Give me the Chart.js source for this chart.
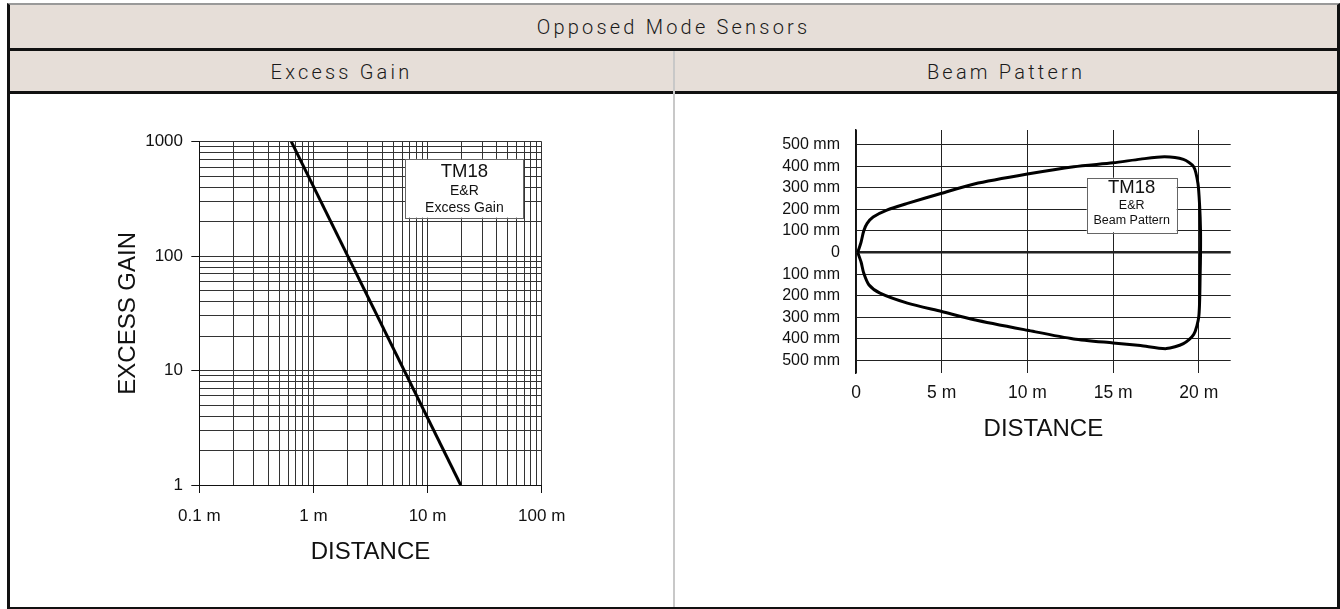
<!DOCTYPE html>
<html>
<head>
<meta charset="utf-8">
<title>Opposed Mode Sensors</title>
<script src="https://cdn.jsdelivr.net/npm/chart.js@4.4.0/dist/chart.umd.min.js"></script>
<style>
  body { margin: 0; width: 1340px; height: 609px; overflow: hidden; background: #fff; position: relative; }
  .frame { position: absolute; left: 7px; top: 3px; width: 1333px; height: 606px; box-sizing: border-box;
           border-left: 3px solid #111; border-right: 3px solid #111; border-bottom: 2px solid #111; border-top: 2px solid #999; }
  .head { position: absolute; background: #e6ded8; color: #1a1a1a; font-family: Roboto, sans-serif; font-weight: 300;
          font-size: 20px; letter-spacing: 3.2px; text-align: center; box-sizing: border-box; }
  #h1 { left: 10px; top: 5px; width: 1327px; height: 46px; line-height: 45px; border-bottom: 3px solid #111; }
  #h2a { left: 10px; top: 51px; width: 663px; height: 43px; line-height: 42px; border-bottom: 3px solid #111; }
  #h2b { left: 675px; top: 51px; width: 662px; height: 43px; line-height: 42px; border-bottom: 3px solid #111; }
  .divider { position: absolute; left: 673px; top: 51px; width: 2px; height: 556px; background: #c8c8c8; }
  .box { position: absolute; top: 94px; height: 513px; }
  #gainBox { left: 10px; width: 663px; }
  #beamBox { left: 675px; width: 662px; }
</style>
</head>
<body>
<div class="frame"></div>
<div class="head" id="h1">Opposed Mode Sensors</div>
<div class="head" id="h2a">Excess Gain</div>
<div class="head" id="h2b">Beam Pattern</div>
<div class="divider"></div>
<div class="box" id="gainBox"><canvas id="gain"></canvas></div>
<div class="box" id="beamBox"><canvas id="beam"></canvas></div>
<script>
// excess gain curve (distance in m, gain)
var gainDist = [0.64, 19.5];
var gainVal = [1000, 1];
// log axis decades
var distDecades = [0.1, 1, 10, 100];
var gainDecades = [1, 10, 100, 1000];

// beam pattern outline (distance in m, width in mm), tip -> top edge -> far end -> bottom edge -> tip
var beamX = [0.1, 0.3, 0.45, 0.65, 1.0, 1.8, 3.0, 5.0, 6.9, 10.0, 12.7, 15.0, 16.6, 18.0, 19.1, 19.7, 19.95, 20.05, 20.1, 20.1,
             20.08, 20.0, 19.7, 19.1, 18.1, 16.6, 15.0, 12.7, 10.0, 6.9, 5.0, 3.0, 1.4, 0.75, 0.45, 0.3, 0.1];
var beamY = [0, 50, 100, 135, 165, 197, 228, 275, 318, 364, 398, 416, 433, 444, 432, 398, 320, 213, 100, 0,
             -95, -296, -380, -422, -445, -431, -419, -400, -360, -311, -273, -234, -188, -149, -95, -45, 0];
var beamXTicks = [0, 5, 10, 15, 20];
var beamYTicks = [-500, -400, -300, -200, -100, 0, 100, 200, 300, 400, 500];

Chart.defaults.font.family = "'Liberation Sans', Arial, sans-serif";
Chart.defaults.color = '#111';

// builds 1..9 per decade ticks for a log axis
function logTicks(decades) {
	var t = [];
	for (var i = 0; i < decades.length - 1; i++) {
		for (var m = 1; m < 10; m++) {
			t.push({ value: decades[i] * m, major: m === 1 });
		}
	}
	t.push({ value: decades[decades.length - 1], major: true });
	return t;
}

// white label box drawn in data coordinates
var noteBox = {
	id: 'noteBox',
	beforeDatasetsDraw: function(chart, args, o) {
		var c = chart.ctx, x = chart.scales.x, y = chart.scales.y;
		var l = x.getPixelForValue(o.x0), r = x.getPixelForValue(o.x1);
		var t = y.getPixelForValue(o.y0), b = y.getPixelForValue(o.y1);
		c.save();
		c.fillStyle = '#fff';
		c.fillRect(l, t, r - l, b - t);
		c.strokeStyle = '#666';
		c.lineWidth = 1;
		c.strokeRect(Math.round(l) + 0.5, Math.round(t) + 0.5, Math.round(r - l), Math.round(b - t));
		c.fillStyle = '#111';
		c.textAlign = 'center';
		c.textBaseline = 'middle';
		for (var i = 0; i < o.lines.length; i++) {
			c.font = o.sizes[i] + "px 'Liberation Sans', Arial, sans-serif";
			c.fillText(o.lines[i], (l + r) / 2, t + o.offsets[i]);
		}
		c.restore();
	}
};

var gainPoints = gainDist.map(function(d, i) { return { x: d, y: gainVal[i] }; });
var beamPoints = beamX.map(function(d, i) { return { x: d, y: beamY[i] }; });

var gainChart = new Chart(document.getElementById('gain').getContext('2d'), {
	type: 'scatter',
	data: {
		datasets: [{
			data: gainPoints,
			showLine: true,
			borderColor: '#000',
			borderWidth: 3,
			pointRadius: 0
		}]
	},
	plugins: [noteBox],
	options: {
		responsive: true,
		maintainAspectRatio: false,
		animation: false,
		layout: { padding: { left: 0, right: 131.3, top: 47.7, bottom: 40.6 } },
		plugins: {
			legend: { display: false },
			tooltip: { enabled: false },
			noteBox: { x0: 6.4, x1: 69, y0: 707, y1: 217, lines: ['TM18', 'E&R', 'Excess Gain'], sizes: [18.5, 14, 14], offsets: [12.7, 32, 49.3] }
		},
		scales: {
			x: {
				type: 'logarithmic',
				min: 0.1,
				max: 100,
				afterBuildTicks: function(s) { s.ticks = logTicks(distDecades); },
				afterFit: function(s) { s.height = 81.4; s.paddingLeft = 0; s.paddingRight = 0; },
				grid: {
					color: '#333',
					lineWidth: 1,
					tickLength: 8,
					tickColor: function(c) { return c.tick && c.tick.major ? '#111' : 'rgba(0,0,0,0)'; }
				},
				border: { color: '#111', width: 1 },
				ticks: {
					autoSkip: false,
					maxRotation: 0,
					padding: 12.8,
					font: { size: 17 },
					callback: function(v, i, t) { return t[i].major ? v + ' m' : ''; }
				},
				title: { display: true, text: 'DISTANCE', font: { size: 24 }, padding: { top: 0, bottom: 0 } }
			},
			y: {
				type: 'logarithmic',
				min: 1,
				max: 1000,
				afterBuildTicks: function(s) { s.ticks = logTicks(gainDecades); },
				afterFit: function(s) { s.width = 189.3; s.paddingTop = 0; s.paddingBottom = 0; },
				grid: {
					color: '#333',
					lineWidth: 1,
					tickLength: 8,
					tickColor: function(c) { return c.tick && c.tick.major ? '#111' : 'rgba(0,0,0,0)'; }
				},
				border: { color: '#111', width: 1 },
				ticks: {
					autoSkip: false,
					padding: 8.3,
					font: { size: 17 },
					callback: function(v, i, t) { return t[i].major ? String(v) : ''; }
				},
				title: { display: true, text: 'EXCESS GAIN', font: { size: 24 }, padding: { top: 104.1, bottom: 0 } }
			}
		}
	}
});

var beamChart = new Chart(document.getElementById('beam').getContext('2d'), {
	type: 'scatter',
	data: {
		datasets: [{
			data: beamPoints,
			showLine: true,
			tension: 0.25,
			borderColor: '#000',
			borderWidth: 3,
			pointRadius: 0
		}]
	},
	plugins: [noteBox],
	options: {
		responsive: true,
		maintainAspectRatio: false,
		animation: false,
		layout: { padding: { left: 0, right: 106.3, top: 36, bottom: 163.6 } },
		plugins: {
			legend: { display: false },
			tooltip: { enabled: false },
			noteBox: { x0: 13.46, x1: 18.71, y0: 347, y1: 94, lines: ['TM18', 'E&R', 'Beam Pattern'], sizes: [18.5, 12.5, 12.5], offsets: [10.6, 28, 43] }
		},
		scales: {
			x: {
				type: 'linear',
				min: 0,
				max: 21.86,
				afterBuildTicks: function(s) { s.ticks = beamXTicks.map(function(v) { return { value: v }; }); },
				afterFit: function(s) { s.height = 70.4; s.paddingLeft = 0; s.paddingRight = 0; },
				grid: { color: '#222', lineWidth: 1, drawTicks: false },
				border: { display: false },
				ticks: {
					autoSkip: false,
					maxRotation: 0,
					padding: 9.2,
					font: { size: 17.5 },
					callback: function(v) { return v === 0 ? '0' : v + ' m'; }
				},
				title: { display: true, text: 'DISTANCE', font: { size: 24 }, padding: { top: 0, bottom: 0 } }
			},
			y: {
				type: 'linear',
				min: -558,
				max: 568,
				afterBuildTicks: function(s) { s.ticks = beamYTicks.map(function(v) { return { value: v }; }); },
				afterFit: function(s) { s.width = 181; s.paddingTop = 0; s.paddingBottom = 0; },
				grid: {
					color: '#222',
					lineWidth: function(c) { return c.tick && c.tick.value === 0 ? 2.5 : 1; },
					drawTicks: false
				},
				border: { color: '#111', width: 1.5 },
				ticks: {
					autoSkip: false,
					padding: 16,
					font: { size: 16 },
					callback: function(v) { return v === 0 ? '0' : Math.abs(v) + ' mm'; }
				}
			}
		}
	}
});
</script>
</body>
</html>
